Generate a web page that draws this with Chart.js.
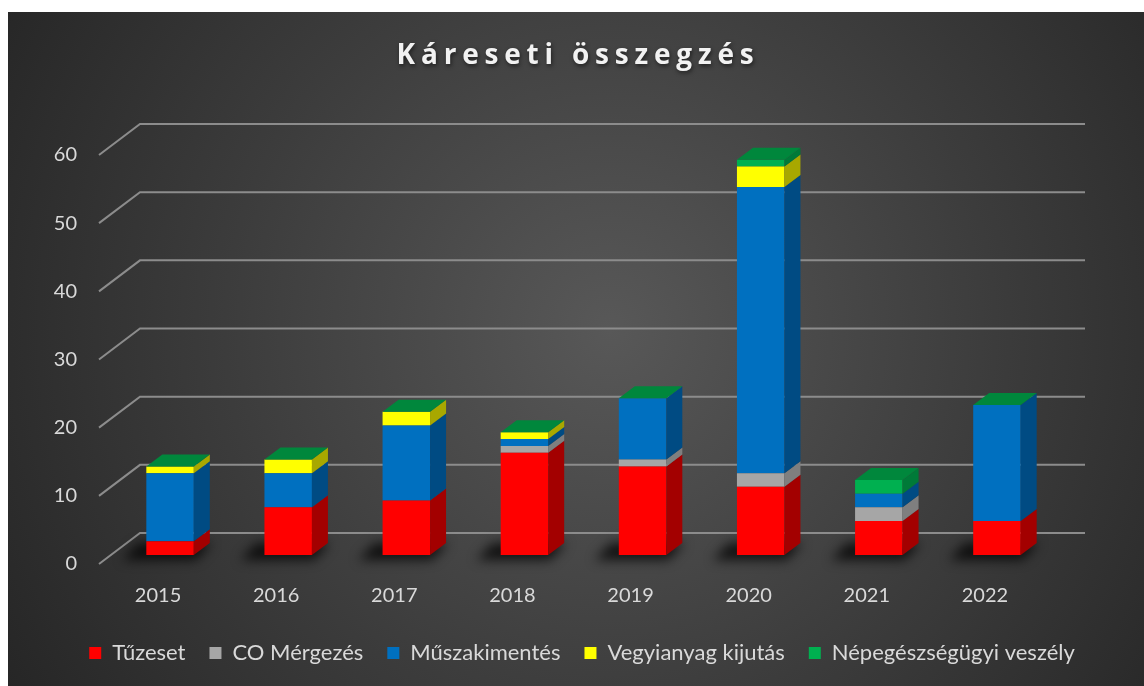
<!DOCTYPE html>
<html>
<head>
<meta charset="utf-8">
<script src="https://cdn.jsdelivr.net/npm/chart.js@4/dist/chart.umd.min.js"></script>
<style>
  html, body { margin: 0; padding: 0; background: #ffffff; }
  #wrap { width: 1144px; height: 686px; position: relative; }
  canvas { display: block; }
</style>
</head>
<body>
<div id="wrap"><canvas id="chart" width="1144" height="686"></canvas></div>
<script>
// Incident counts per year, stacked by incident type
const years = ['2015', '2016', '2017', '2018', '2019', '2020', '2021', '2022'];
const tuzeset = [2, 7, 8, 15, 13, 10, 5, 5];
const coMergezes = [0, 0, 0, 1, 1, 2, 2, 0];
const muszakiMentes = [10, 5, 11, 1, 9, 42, 2, 17];
const vegyianyag = [1, 2, 2, 1, 0, 3, 0, 0];
const nepegeszsegugyi = [0, 0, 0, 0, 0, 1, 2, 0];
const seriesNames = ['Tűzeset', 'CO Mérgezés', 'Műszakimentés', 'Vegyianyag kijutás', 'Népegészségügyi veszély'];
const yTicks = [0, 10, 20, 30, 40, 50, 60];
const titleText = 'Káreseti összegzés';

const frontColors = ['#FF0000', '#A6A6A6', '#0070C0', '#FFFF00', '#00B050'];
const sideColors = ['#A30000', '#7F7F7F', '#004B83', '#A8A800', '#007A38'];
const capColor = '#00873C';

const FONT = 'Lato, "Open Sans", sans-serif';
const TITLE_FONT = '"Open Sans", Lato, sans-serif';
const TEXT = '#D9D9D9';

// 3D geometry: bar depth and the floor/wall offsets relative to the bar plane
const BAR_DX = 16, BAR_DY = -12;
const FRONT_DX = -12, FRONT_DY = 9;
const BACK_DX = 29, BACK_DY = -22;

const seriesData = [tuzeset, coMergezes, muszakiMentes, vegyianyag, nepegeszsegugyi];

function poly(ctx, pts, fill) {
  ctx.beginPath();
  ctx.moveTo(pts[0][0], pts[0][1]);
  for (let k = 1; k < pts.length; k++) ctx.lineTo(pts[k][0], pts[k][1]);
  ctx.closePath();
  ctx.fillStyle = fill;
  ctx.fill();
}

const scene3d = {
  id: 'scene3d',
  beforeDraw(chart) {
    const ctx = chart.ctx;
    ctx.save();
    ctx.fillStyle = '#ffffff';
    ctx.fillRect(0, 0, chart.width, chart.height);
    const g = ctx.createRadialGradient(610, 330, 0, 610, 330, 700);
    g.addColorStop(0, '#585858');
    g.addColorStop(0.55, '#3c3c3c');
    g.addColorStop(1, '#262626');
    ctx.fillStyle = g;
    ctx.fillRect(8, 12, chart.width - 8, chart.height - 12);
    ctx.restore();
  },
  beforeDatasetsDraw(chart) {
    const ctx = chart.ctx;
    const area = chart.chartArea;
    const yS = chart.scales.y;
    ctx.save();
    // perspective gridlines: front edge, slanted side, back wall
    ctx.strokeStyle = '#8C8C8C';
    ctx.lineWidth = 2;
    yTicks.forEach(v => {
      const y = yS.getPixelForValue(v);
      ctx.beginPath();
      ctx.moveTo(area.left + FRONT_DX, y + FRONT_DY);
      ctx.lineTo(area.left + BACK_DX, y + BACK_DY);
      ctx.lineTo(area.right + BACK_DX, y + BACK_DY);
      ctx.stroke();
    });
    // soft floor shadows under each column
    const meta = chart.getDatasetMeta(0);
    const base = yS.getPixelForValue(0);
    ctx.filter = 'blur(6px)';
    meta.data.forEach(el => {
      const p = el.getProps(['x', 'width'], true);
      const xl = p.x - p.width / 2, xr = p.x + p.width / 2;
      poly(ctx, [
        [xl - 24, base + 5], [xr + 2, base + 5],
        [xr + BAR_DX + 2, base + BAR_DY], [xl + BAR_DX - 24, base + BAR_DY]
      ], 'rgba(0,0,0,0.75)');
    });
    ctx.filter = 'none';
    ctx.restore();
  },
  afterDatasetsDraw(chart) {
    const ctx = chart.ctx;
    const yS = chart.scales.y;
    ctx.save();
    chart.data.datasets.forEach((ds, di) => {
      const meta = chart.getDatasetMeta(di);
      meta.data.forEach(el => {
        const p = el.getProps(['x', 'y', 'base', 'width'], true);
        if (Math.abs(p.base - p.y) < 0.5) return;
        const xr = p.x + p.width / 2;
        poly(ctx, [
          [xr, p.y], [xr + BAR_DX, p.y + BAR_DY],
          [xr + BAR_DX, p.base + BAR_DY], [xr, p.base]
        ], sideColors[di]);
      });
    });
    // top cap of every stack
    const meta0 = chart.getDatasetMeta(0);
    meta0.data.forEach((el, i) => {
      const p = el.getProps(['x', 'width'], true);
      let total = 0;
      seriesData.forEach(s => { total += s[i]; });
      const top = yS.getPixelForValue(total);
      const xl = p.x - p.width / 2, xr = p.x + p.width / 2;
      poly(ctx, [
        [xl, top], [xl + BAR_DX, top + BAR_DY],
        [xr + BAR_DX, top + BAR_DY], [xr, top]
      ], capColor);
    });
    ctx.restore();
  },
  afterDraw(chart) {
    const ctx = chart.ctx;
    ctx.save();
    ctx.font = 'bold 28px ' + TITLE_FONT;
    ctx.letterSpacing = '5.8px';
    ctx.textAlign = 'center';
    ctx.textBaseline = 'alphabetic';
    ctx.shadowColor = 'rgba(0,0,0,0.55)';
    ctx.shadowBlur = 4;
    ctx.shadowOffsetX = 1;
    ctx.shadowOffsetY = 2;
    ctx.fillStyle = '#F2F2F2';
    ctx.fillText(titleText, 578, 64);
    ctx.restore();
  }
};

new Chart(document.getElementById('chart'), {
  type: 'bar',
  data: {
    labels: years,
    datasets: seriesData.map((d, i) => ({
      label: seriesNames[i],
      data: d,
      backgroundColor: frontColors[i],
      borderWidth: 0,
      barPercentage: 0.402,
      categoryPercentage: 1
    }))
  },
  options: {
    responsive: false,
    devicePixelRatio: 1,
    animation: false,
    events: [],
    layout: { padding: { left: 20, top: 146, right: 0, bottom: 12 } },
    scales: {
      x: {
        stacked: true,
        grid: { display: false, drawTicks: false },
        border: { display: false },
        ticks: { color: TEXT, font: { family: FONT, size: 20 }, padding: 29, labelOffset: -12 },
        afterFit(s) { s.height = 63; }
      },
      y: {
        stacked: true,
        min: 0,
        max: 60,
        afterBuildTicks(s) { s.ticks = yTicks.map(v => ({ value: v })); },
        grid: { display: false, drawTicks: false },
        border: { display: false },
        ticks: { color: TEXT, font: { family: FONT, size: 20 }, padding: 34, labelOffset: 9 },
        afterFit(s) { s.width = 91; }
      },
      // empty right-hand axis reserving room for the back wall depth
      yRight: {
        position: 'right',
        display: true,
        grid: { display: false, drawTicks: false },
        border: { display: false },
        ticks: { display: false },
        afterFit(s) { s.width = 88; }
      }
    },
    plugins: {
      legend: {
        position: 'bottom',
        labels: {
          color: TEXT,
          font: { family: FONT, size: 22 },
          boxWidth: 12,
          boxHeight: 12,
          padding: 24
        }
      },
      tooltip: { enabled: false },
      title: { display: false }
    }
  },
  plugins: [scene3d]
});
</script>
</body>
</html>
